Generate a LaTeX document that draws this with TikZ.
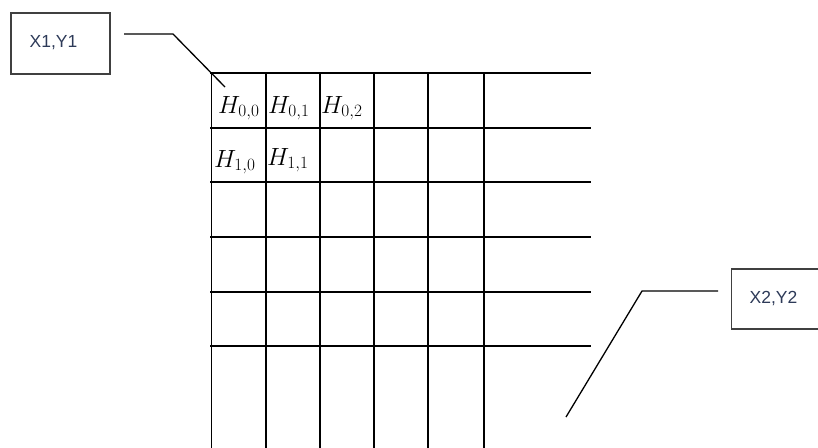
\documentclass[tikz,border=0pt]{standalone}
\usepackage{fontspec}
\setsansfont{Liberation Sans}
\begin{document}
\begin{tikzpicture}[x=1pt,y=-1pt,
  gridline/.style={line width=1.8pt,black},
  boxline/.style={draw=black!75,line width=1.4pt},
  leader/.style={line width=1.3pt,black},
  boxtext/.style={font=\sffamily\fontsize{17.5}{17.5}\selectfont,text={rgb,255:red,45;green,58;blue,88},inner sep=0pt,anchor=west},
  hlab/.style={font=\fontsize{25}{25}\selectfont,inner sep=0pt,anchor=base west}]
\useasboundingbox (0,0) rectangle (818,447);
% boxes
\draw[boxline] (11,13) rectangle (110,74);
\node[boxtext] (t1) at (29.5,43) {X1,Y1};
\draw[boxline] (731.5,269) rectangle (822,329);
\node[boxtext] (t2) at (749.5,299) {X2,Y2};
% grid
\foreach \y in {73,128,182,237,292,346} \draw[gridline] (210,\y) -- (591,\y);
\foreach \x in {211.5,266,320,374,428,484} \draw[gridline] (\x,72.5) -- (\x,450);
% leaders
\coordinate (l1a) at (124,34);
\coordinate (l1b) at (173,34);
\coordinate (l1c) at (225,87);
\draw[leader] (l1a) -- (l1b) -- (l1c);
\coordinate (l2a) at (718,291);
\coordinate (l2b) at (642,291);
\coordinate (l2c) at (566,417);
\draw[leader] (l2a) -- (l2b) -- (l2c);
% labels
\node[hlab] (h00) at (218,113) {$H_{0,0}$};
\node[hlab] (h01) at (268,113) {$H_{0,1}$};
\node[hlab] (h02) at (321,113) {$H_{0,2}$};
\node[hlab] (h10) at (214,167) {$H_{1,0}$};
\node[hlab] (h11) at (267,165) {$H_{1,1}$};
\end{tikzpicture}
\end{document}
